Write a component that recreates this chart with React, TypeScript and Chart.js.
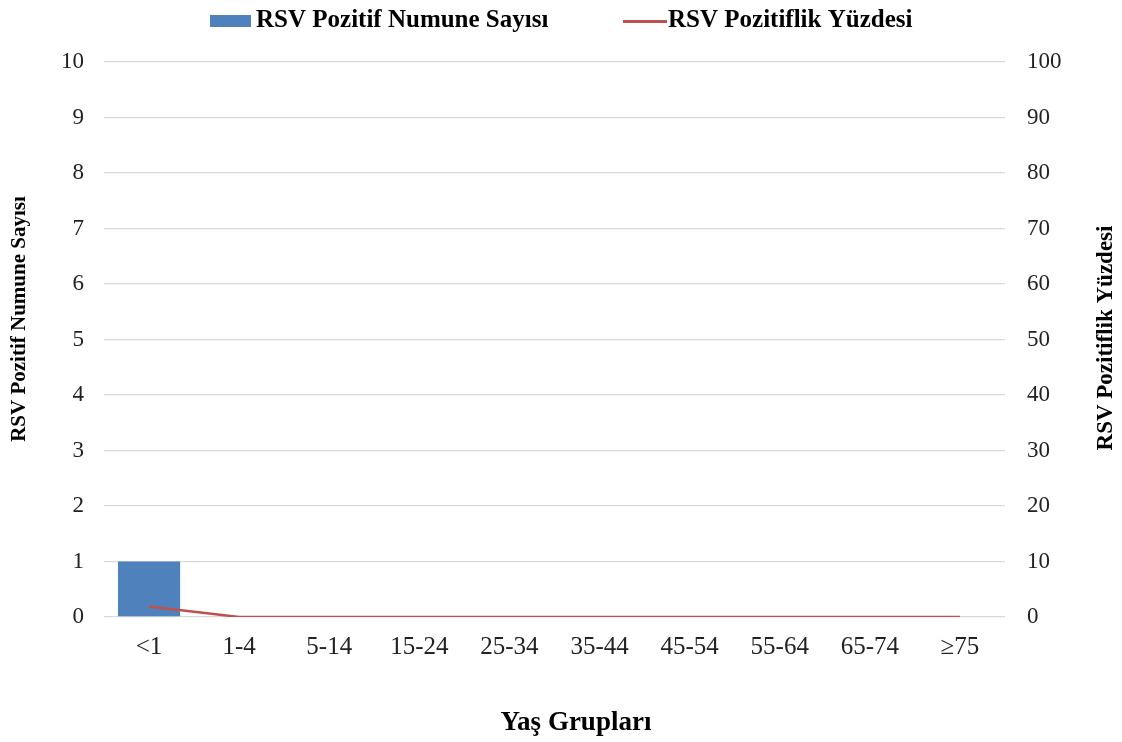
import React, { useEffect, useRef } from "react";
import { Chart, registerables } from "chart.js";

Chart.register(...registerables);

const categories = ["<1", "1-4", "5-14", "15-24", "25-34", "35-44", "45-54", "55-64", "65-74", "≥75"];
const positiveCounts = [1, 0, 0, 0, 0, 0, 0, 0, 0, 0];
const positivityPercent = [1.9, 0, 0, 0, 0, 0, 0, 0, 0, 0];
const leftTicks = [0, 1, 2, 3, 4, 5, 6, 7, 8, 9, 10];
const rightTicks = [0, 10, 20, 30, 40, 50, 60, 70, 80, 90, 100];

const barLabel = "RSV Pozitif Numune Sayısı";
const lineLabel = "RSV Pozitiflik Yüzdesi";
const xTitle = "Yaş Grupları";

const FONT = "'Liberation Serif', 'Times New Roman', serif";
const BLUE = "#4f81bd";
const RED = "#c0504d";

const customPlugin = {
  id: "customDecor",
  afterDraw(chart: any) {
    const ctx = chart.ctx;
    ctx.save();
    ctx.fillStyle = "#000";
    ctx.textAlign = "left";
    ctx.textBaseline = "alphabetic";
    ctx.font = `bold 25px ${FONT}`;
    // legend item 1
    ctx.fillStyle = BLUE;
    ctx.fillRect(210, 15, 41, 12);
    ctx.fillStyle = "#000";
    ctx.fillText(barLabel, 256, 27);
    // legend item 2
    ctx.strokeStyle = RED;
    ctx.lineWidth = 3;
    ctx.beginPath();
    ctx.moveTo(623, 21.5);
    ctx.lineTo(667, 21.5);
    ctx.stroke();
    ctx.fillText(lineLabel, 668, 27);
    // x title
    ctx.textAlign = "center";
    ctx.textBaseline = "middle";
    ctx.font = `bold 27px ${FONT}`;
    ctx.fillText(xTitle, 576, 723);
    // left y title
    ctx.font = `bold 21px ${FONT}`;
    ctx.save();
    ctx.translate(20, 319);
    ctx.rotate(-Math.PI / 2);
    ctx.fillText(barLabel, 0, 0);
    ctx.restore();
    // right y title
    ctx.font = `bold 23px ${FONT}`;
    ctx.save();
    ctx.translate(1106, 338);
    ctx.rotate(-Math.PI / 2);
    ctx.fillText(lineLabel, 0, 0);
    ctx.restore();
    ctx.restore();
  },
};

export default function App() {
  const ref = useRef<HTMLCanvasElement | null>(null);
  useEffect(() => {
    document.body.style.margin = "0";
    if (!ref.current) return;
    const chart = new Chart(ref.current, {
      type: "bar",
      data: {
        labels: categories,
        datasets: [
          {
            type: "line",
            label: lineLabel,
            data: positivityPercent,
            yAxisID: "y1",
            borderColor: RED,
            backgroundColor: RED,
            borderWidth: 2.5,
            pointRadius: 0,
            tension: 0,
            order: 0,
          } as any,
          {
            type: "bar",
            label: barLabel,
            data: positiveCounts,
            yAxisID: "y",
            backgroundColor: BLUE,
            categoryPercentage: 1,
            barPercentage: 0.69,
            order: 1,
          },
        ],
      },
      options: {
        animation: false,
        responsive: false,
        maintainAspectRatio: false,
        layout: { padding: { top: 62, left: 0, right: 0, bottom: 0 } },
        plugins: {
          legend: { display: false },
          tooltip: { enabled: false },
        },
        scales: {
          x: {
            grid: { display: false, drawTicks: false },
            border: { display: false },
            ticks: {
              color: "#222",
              font: { family: FONT, size: 25 },
              padding: 15,
              maxRotation: 0,
              autoSkip: false,
            },
            afterFit(scale: any) {
              scale.height = 125;
            },
          },
          y: {
            position: "left",
            min: 0,
            max: 10,
            afterBuildTicks(scale: any) {
              scale.ticks = leftTicks.map((v) => ({ value: v }));
            },
            grid: { color: "#d9d9d9", lineWidth: 1.3, drawTicks: false },
            border: { display: false },
            ticks: {
              color: "#222",
              font: { family: FONT, size: 23 },
              padding: 20,
            },
            afterFit(scale: any) {
              scale.width = 104;
            },
          },
          y1: {
            position: "right",
            min: 0,
            max: 100,
            afterBuildTicks(scale: any) {
              scale.ticks = rightTicks.map((v) => ({ value: v }));
            },
            grid: { display: false, drawTicks: false },
            border: { display: false },
            ticks: {
              color: "#222",
              font: { family: FONT, size: 23 },
              padding: 22,
            },
            afterFit(scale: any) {
              scale.width = 117;
            },
          },
        },
      },
      plugins: [customPlugin],
    });
    return () => chart.destroy();
  }, []);
  return (
    <div style={{ width: 1122, height: 742, background: "#fff" }}>
      <canvas ref={ref} width={1122} height={742} style={{ display: "block" }} />
    </div>
  );
}
